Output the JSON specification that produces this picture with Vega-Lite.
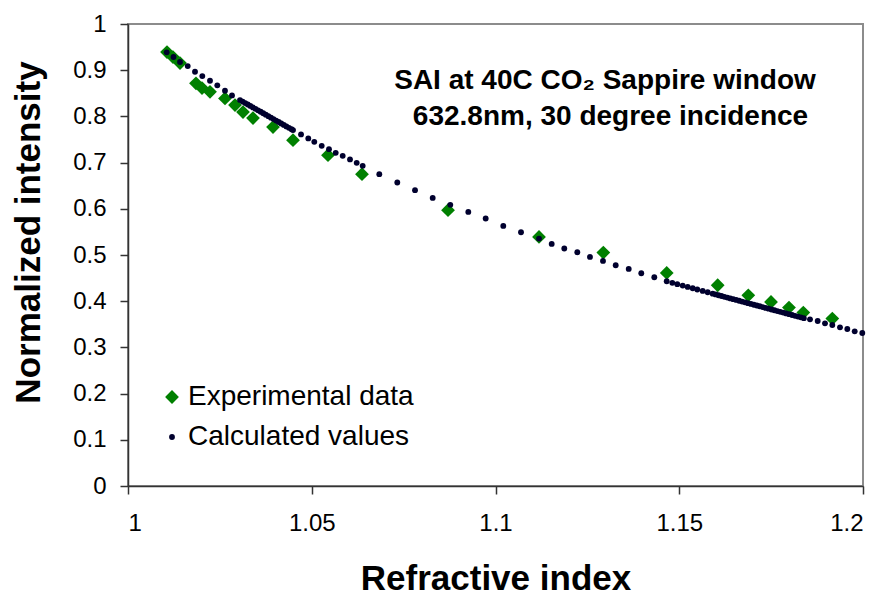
{
  "$schema": "https://vega.github.io/schema/vega-lite/v6.json",
  "width": 735,
  "height": 462,
  "autosize": {"type": "none"},
  "padding": {"left": 128, "top": 24, "right": 22, "bottom": 110},
  "background": "white",
  "config": {
    "font": "Liberation Sans",
    "view": {"stroke": "#8c8c8c", "strokeWidth": 2},
    "axis": {
      "grid": false,
      "domainColor": "#333333",
      "domainWidth": 1.5,
      "tickColor": "#333333",
      "tickWidth": 1.5,
      "tickSize": 8,
      "labelFont": "Liberation Sans",
      "labelFontSize": 24,
      "labelColor": "#000000",
      "titleFont": "Liberation Sans",
      "titleFontSize": 35,
      "titleFontWeight": "bold",
      "titleColor": "#000000"
    }
  },
  "datasets": {
    "points": [
      {"n": 1.01061, "I": 0.9393, "series": "Experimental data"},
      {"n": 1.01224, "I": 0.9285, "series": "Experimental data"},
      {"n": 1.01415, "I": 0.9155, "series": "Experimental data"},
      {"n": 1.01850, "I": 0.8715, "series": "Experimental data"},
      {"n": 1.02014, "I": 0.8613, "series": "Experimental data"},
      {"n": 1.02231, "I": 0.8533, "series": "Experimental data"},
      {"n": 1.02639, "I": 0.8390, "series": "Experimental data"},
      {"n": 1.02912, "I": 0.8246, "series": "Experimental data"},
      {"n": 1.03129, "I": 0.8093, "series": "Experimental data"},
      {"n": 1.03401, "I": 0.7963, "series": "Experimental data"},
      {"n": 1.03946, "I": 0.7768, "series": "Experimental data"},
      {"n": 1.04490, "I": 0.7486, "series": "Experimental data"},
      {"n": 1.05442, "I": 0.7161, "series": "Experimental data"},
      {"n": 1.06367, "I": 0.6750, "series": "Experimental data"},
      {"n": 1.08708, "I": 0.5970, "series": "Experimental data"},
      {"n": 1.11184, "I": 0.5391, "series": "Experimental data"},
      {"n": 1.12934, "I": 0.5053, "series": "Experimental data"},
      {"n": 1.14659, "I": 0.4611, "series": "Experimental data"},
      {"n": 1.16046, "I": 0.4345, "series": "Experimental data"},
      {"n": 1.16879, "I": 0.4128, "series": "Experimental data"},
      {"n": 1.17497, "I": 0.3983, "series": "Experimental data"},
      {"n": 1.17986, "I": 0.3861, "series": "Experimental data"},
      {"n": 1.18376, "I": 0.3753, "series": "Experimental data"},
      {"n": 1.19165, "I": 0.3623, "series": "Experimental data"},

      {"n": 1.01053, "I": 0.9387, "series": "Calculated values"},
      {"n": 1.01238, "I": 0.9285, "series": "Calculated values"},
      {"n": 1.01415, "I": 0.9177, "series": "Calculated values"},
      {"n": 1.01625, "I": 0.9090, "series": "Calculated values"},
      {"n": 1.01823, "I": 0.8966, "series": "Calculated values"},
      {"n": 1.02022, "I": 0.8873, "series": "Calculated values"},
      {"n": 1.02231, "I": 0.8771, "series": "Calculated values"},
      {"n": 1.02430, "I": 0.8672, "series": "Calculated values"},
      {"n": 1.02639, "I": 0.8555, "series": "Calculated values"},
      {"n": 1.02830, "I": 0.8455, "series": "Calculated values"},
      {"n": 1.03048, "I": 0.8353, "series": "Calculated values"},
      {"n": 1.0312, "I": 0.8321, "series": "Calculated values"},
      {"n": 1.0319, "I": 0.8289, "series": "Calculated values"},
      {"n": 1.0326, "I": 0.8257, "series": "Calculated values"},
      {"n": 1.0333, "I": 0.8226, "series": "Calculated values"},
      {"n": 1.0340, "I": 0.8194, "series": "Calculated values"},
      {"n": 1.0347, "I": 0.8163, "series": "Calculated values"},
      {"n": 1.0354, "I": 0.8131, "series": "Calculated values"},
      {"n": 1.0361, "I": 0.8100, "series": "Calculated values"},
      {"n": 1.0368, "I": 0.8068, "series": "Calculated values"},
      {"n": 1.0375, "I": 0.8037, "series": "Calculated values"},
      {"n": 1.0382, "I": 0.8005, "series": "Calculated values"},
      {"n": 1.0389, "I": 0.7973, "series": "Calculated values"},
      {"n": 1.0396, "I": 0.7942, "series": "Calculated values"},
      {"n": 1.0403, "I": 0.7910, "series": "Calculated values"},
      {"n": 1.0410, "I": 0.7879, "series": "Calculated values"},
      {"n": 1.0417, "I": 0.7847, "series": "Calculated values"},
      {"n": 1.0424, "I": 0.7816, "series": "Calculated values"},
      {"n": 1.0431, "I": 0.7784, "series": "Calculated values"},
      {"n": 1.0438, "I": 0.7753, "series": "Calculated values"},
      {"n": 1.0445, "I": 0.7721, "series": "Calculated values"},
      {"n": 1.0449, "I": 0.7703, "series": "Calculated values"},
      {"n": 1.04708, "I": 0.7610, "series": "Calculated values"},
      {"n": 1.04906, "I": 0.7523, "series": "Calculated values"},
      {"n": 1.05069, "I": 0.7450, "series": "Calculated values"},
      {"n": 1.05271, "I": 0.7363, "series": "Calculated values"},
      {"n": 1.05469, "I": 0.7291, "series": "Calculated values"},
      {"n": 1.05652, "I": 0.7211, "series": "Calculated values"},
      {"n": 1.05842, "I": 0.7146, "series": "Calculated values"},
      {"n": 1.06041, "I": 0.7068, "series": "Calculated values"},
      {"n": 1.06223, "I": 0.6995, "series": "Calculated values"},
      {"n": 1.06386, "I": 0.6930, "series": "Calculated values"},
      {"n": 1.06838, "I": 0.6750, "series": "Calculated values"},
      {"n": 1.07328, "I": 0.6570, "series": "Calculated values"},
      {"n": 1.07810, "I": 0.6403, "series": "Calculated values"},
      {"n": 1.08291, "I": 0.6236, "series": "Calculated values"},
      {"n": 1.08770, "I": 0.6085, "series": "Calculated values"},
      {"n": 1.09260, "I": 0.5933, "series": "Calculated values"},
      {"n": 1.09733, "I": 0.5790, "series": "Calculated values"},
      {"n": 1.10212, "I": 0.5629, "series": "Calculated values"},
      {"n": 1.10694, "I": 0.5493, "series": "Calculated values"},
      {"n": 1.11184, "I": 0.5356, "series": "Calculated values"},
      {"n": 1.11529, "I": 0.5239, "series": "Calculated values"},
      {"n": 1.11872, "I": 0.5140, "series": "Calculated values"},
      {"n": 1.12226, "I": 0.5060, "series": "Calculated values"},
      {"n": 1.12571, "I": 0.4958, "series": "Calculated values"},
      {"n": 1.12925, "I": 0.4871, "series": "Calculated values"},
      {"n": 1.13271, "I": 0.4778, "series": "Calculated values"},
      {"n": 1.13625, "I": 0.4698, "series": "Calculated values"},
      {"n": 1.13967, "I": 0.4605, "series": "Calculated values"},
      {"n": 1.14321, "I": 0.4518, "series": "Calculated values"},
      {"n": 1.14659, "I": 0.4431, "series": "Calculated values"},
      {"n": 1.14811, "I": 0.4398, "series": "Calculated values"},
      {"n": 1.14947, "I": 0.4369, "series": "Calculated values"},
      {"n": 1.15094, "I": 0.4338, "series": "Calculated values"},
      {"n": 1.15230, "I": 0.4309, "series": "Calculated values"},
      {"n": 1.15366, "I": 0.4280, "series": "Calculated values"},
      {"n": 1.15491, "I": 0.4253, "series": "Calculated values"},
      {"n": 1.15638, "I": 0.4222, "series": "Calculated values"},
      {"n": 1.15774, "I": 0.4193, "series": "Calculated values"},
      {"n": 1.15910, "I": 0.4163, "series": "Calculated values"},
      {"n": 1.1599, "I": 0.4146, "series": "Calculated values"},
      {"n": 1.1607, "I": 0.4129, "series": "Calculated values"},
      {"n": 1.1615, "I": 0.4112, "series": "Calculated values"},
      {"n": 1.1623, "I": 0.4095, "series": "Calculated values"},
      {"n": 1.1631, "I": 0.4078, "series": "Calculated values"},
      {"n": 1.1639, "I": 0.4061, "series": "Calculated values"},
      {"n": 1.1647, "I": 0.4044, "series": "Calculated values"},
      {"n": 1.1655, "I": 0.4027, "series": "Calculated values"},
      {"n": 1.1663, "I": 0.4009, "series": "Calculated values"},
      {"n": 1.1671, "I": 0.3992, "series": "Calculated values"},
      {"n": 1.1679, "I": 0.3975, "series": "Calculated values"},
      {"n": 1.1687, "I": 0.3958, "series": "Calculated values"},
      {"n": 1.1695, "I": 0.3941, "series": "Calculated values"},
      {"n": 1.1703, "I": 0.3924, "series": "Calculated values"},
      {"n": 1.1711, "I": 0.3907, "series": "Calculated values"},
      {"n": 1.1719, "I": 0.3890, "series": "Calculated values"},
      {"n": 1.1727, "I": 0.3873, "series": "Calculated values"},
      {"n": 1.1735, "I": 0.3855, "series": "Calculated values"},
      {"n": 1.1743, "I": 0.3838, "series": "Calculated values"},
      {"n": 1.1751, "I": 0.3821, "series": "Calculated values"},
      {"n": 1.1759, "I": 0.3804, "series": "Calculated values"},
      {"n": 1.1767, "I": 0.3787, "series": "Calculated values"},
      {"n": 1.1775, "I": 0.3770, "series": "Calculated values"},
      {"n": 1.1783, "I": 0.3753, "series": "Calculated values"},
      {"n": 1.1791, "I": 0.3736, "series": "Calculated values"},
      {"n": 1.1799, "I": 0.3719, "series": "Calculated values"},
      {"n": 1.1807, "I": 0.3701, "series": "Calculated values"},
      {"n": 1.1815, "I": 0.3684, "series": "Calculated values"},
      {"n": 1.1823, "I": 0.3667, "series": "Calculated values"},
      {"n": 1.1831, "I": 0.3650, "series": "Calculated values"},
      {"n": 1.1839, "I": 0.3633, "series": "Calculated values"},
      {"n": 1.18558, "I": 0.3608, "series": "Calculated values"},
      {"n": 1.18767, "I": 0.3571, "series": "Calculated values"},
      {"n": 1.18966, "I": 0.3521, "series": "Calculated values"},
      {"n": 1.19165, "I": 0.3484, "series": "Calculated values"},
      {"n": 1.19374, "I": 0.3434, "series": "Calculated values"},
      {"n": 1.19573, "I": 0.3398, "series": "Calculated values"},
      {"n": 1.19774, "I": 0.3348, "series": "Calculated values"},
      {"n": 1.19981, "I": 0.3311, "series": "Calculated values"}
    ]
  },
  "layer": [
    {
      "data": {"name": "points"},
      "mark": {"type": "point", "filled": true, "opacity": 1, "clip": false},
      "encoding": {
        "x": {
          "field": "n", "type": "quantitative",
          "scale": {"domain": [1, 1.2], "nice": false, "zero": false},
          "axis": {"values": [1, 1.05, 1.1, 1.15, 1.2], "format": "~g", "title": "Refractive index", "labelPadding": 17, "titlePadding": 26}
        },
        "y": {
          "field": "I", "type": "quantitative",
          "scale": {"domain": [0, 1], "nice": false},
          "axis": {"values": [0, 0.1, 0.2, 0.3, 0.4, 0.5, 0.6, 0.7, 0.8, 0.9, 1], "format": "~g", "title": "Normalized intensity", "labelPadding": 14, "titlePadding": 26, "titleY": 208}
        },
        "color": {
          "field": "series", "type": "nominal",
          "scale": {"domain": ["Experimental data", "Calculated values"], "range": ["#008000", "#00002e"]},
          "legend": {
            "title": null, "orient": "none", "legendX": 30, "legendY": 359,
            "labelFontSize": 28, "labelFont": "Liberation Sans", "labelColor": "#000000", "labelLimit": 500,
            "rowPadding": 12, "labelOffset": 2, "symbolStrokeWidth": 0
          }
        },
        "shape": {
          "field": "series", "type": "nominal",
          "scale": {"domain": ["Experimental data", "Calculated values"], "range": ["diamond", "circle"]}
        },
        "size": {
          "field": "series", "type": "nominal",
          "scale": {"domain": ["Experimental data", "Calculated values"], "range": [190, 34]}
        },
        "order": {"field": "series", "sort": "descending"}
      }
    },
    {
      "data": {"values": [{}]},
      "mark": {"type": "text", "font": "Liberation Sans", "fontWeight": "bold", "fontSize": 28, "align": "center", "baseline": "alphabetic", "color": "#000000"},
      "encoding": {
        "x": {"datum": 1.1298, "type": "quantitative"},
        "y": {"datum": 0.859, "type": "quantitative"},
        "text": {"value": "SAI at 40C CO₂ Sappire window"}
      }
    },
    {
      "data": {"values": [{}]},
      "mark": {"type": "text", "font": "Liberation Sans", "fontWeight": "bold", "fontSize": 28, "align": "center", "baseline": "alphabetic", "color": "#000000"},
      "encoding": {
        "x": {"datum": 1.1313, "type": "quantitative"},
        "y": {"datum": 0.781, "type": "quantitative"},
        "text": {"value": "632.8nm, 30 degree incidence"}
      }
    }
  ]
}
